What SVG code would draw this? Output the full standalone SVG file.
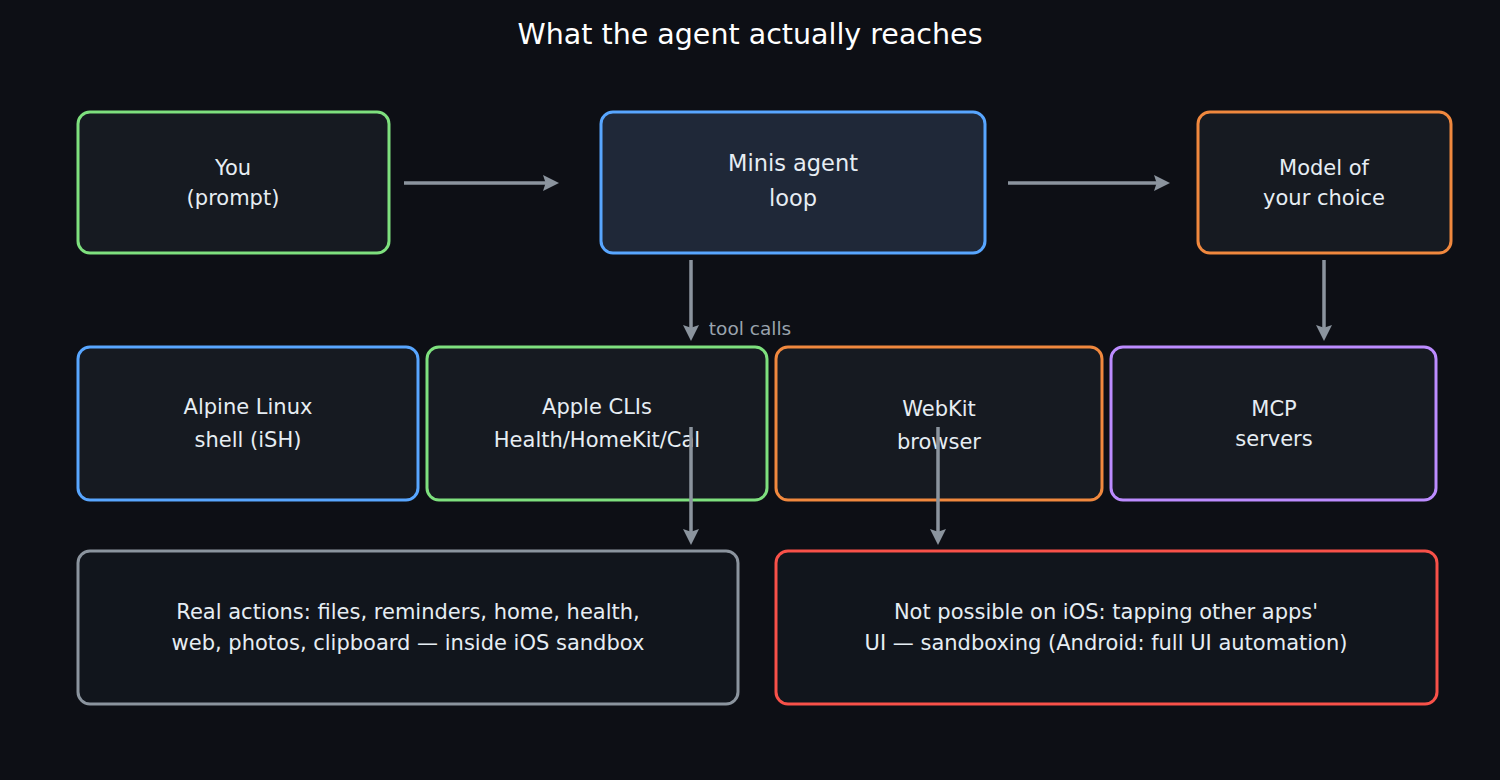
<svg xmlns="http://www.w3.org/2000/svg" width="1500" height="780" viewBox="0 0 1500 780">
<defs>
<marker id="ah" markerWidth="16" markerHeight="16" refX="9" refY="6" orient="auto" markerUnits="userSpaceOnUse" viewBox="0 0 12 12"><path d="M0,0 L12,6 L0,12 L2,6 z" fill="#8b949e"/></marker>
<style>
text{font-family:"DejaVu Sans","Liberation Sans",sans-serif;fill:#e6edf3;text-anchor:middle;font-size:21px}
.b{stroke-width:3;fill:#161a21}
.c line{stroke:#8b949e;stroke-width:3.5;marker-end:url(#ah)}
</style>
</defs>
<rect width="1500" height="780" fill="#0d0f15"/>
<text x="750" y="44" style="font-size:28.5px;fill:#fff">What the agent actually reaches</text>
<g id="you"><rect class="b" x="78" y="112" width="311" height="141" rx="12" stroke="#7ee07e"/><text x="233" y="175">You</text><text x="233" y="205">(prompt)</text></g>
<g id="minis"><rect class="b" x="601" y="112" width="384" height="141" rx="12" stroke="#58a6ff" style="fill:#1f2838"/><text x="793" y="171" style="font-size:22.5px">Minis agent</text><text x="793" y="206" style="font-size:22.5px">loop</text></g>
<g id="model"><rect class="b" x="1198" y="112" width="253" height="141" rx="12" stroke="#f0883e"/><text x="1324" y="175">Model of</text><text x="1324" y="205">your choice</text></g>
<g id="alpine"><rect class="b" x="78" y="347" width="340" height="153" rx="12" stroke="#58a6ff"/><text x="248" y="414">Alpine Linux</text><text x="248" y="447">shell (iSH)</text></g>
<g id="apple"><rect class="b" x="427" y="347" width="340" height="153" rx="12" stroke="#7ee07e"/><text x="597" y="414">Apple CLIs</text><text x="597" y="447">Health/HomeKit/Cal</text></g>
<g id="webkit"><rect class="b" x="776" y="347" width="326" height="153" rx="12" stroke="#f0883e"/><text x="939" y="416">WebKit</text><text x="939" y="449">browser</text></g>
<g id="mcp"><rect class="b" x="1111" y="347" width="325" height="153" rx="12" stroke="#bc8cff"/><text x="1274" y="416">MCP</text><text x="1274" y="446">servers</text></g>
<g id="real"><rect class="b" x="78" y="551" width="660" height="153" rx="12" stroke="#8b949e" style="fill:#11151c"/><text x="408" y="619">Real actions: files, reminders, home, health,</text><text x="408" y="650">web, photos, clipboard — inside iOS sandbox</text></g>
<g id="notpossible"><rect class="b" x="776" y="551" width="661" height="153" rx="12" stroke="#f85149" style="fill:#11151c"/><text x="1106" y="619">Not possible on iOS: tapping other apps'</text><text x="1106" y="650">UI — sandboxing (Android: full UI automation)</text></g>
<g id="connectors" class="c">
<line x1="404" y1="183" x2="555" y2="183"/>
<line x1="1008" y1="183" x2="1166" y2="183"/>
<line x1="691" y1="260" x2="691" y2="337"/>
<line x1="1324" y1="260" x2="1324" y2="337"/>
<line x1="691" y1="427" x2="691" y2="541"/>
<line x1="938" y1="427" x2="938" y2="541"/>
<text x="750" y="335" style="font-size:18.5px;fill:#9aa3ad">tool calls</text>
</g>
</svg>
